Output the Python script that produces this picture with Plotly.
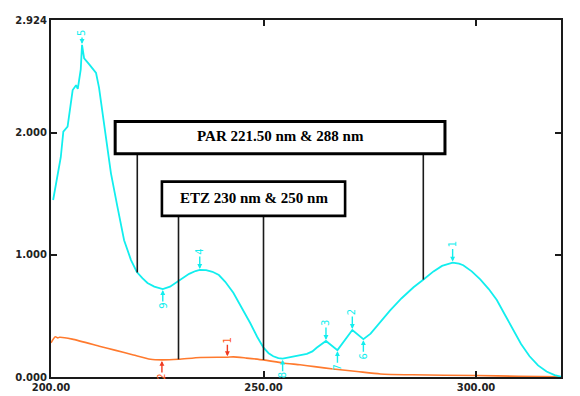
import numpy as np
import plotly.graph_objects as go

# ---------------- data ----------------
cyan_wl = [200.5, 201.3, 202.3, 202.9, 203.9, 205.1, 205.9, 206.3, 207.0, 207.3, 207.8, 209.0,
           209.8, 210.6, 211.3, 212.1, 212.9, 214.1, 215.6, 217.2, 218.8, 220.2, 221.5, 222.7,
           224.3, 225.8, 226.3, 228.0, 229.6, 231.0, 232.5, 234.0, 235.0, 236.5, 238.0, 239.5,
           241.0, 242.9, 245.0, 246.9, 248.5, 250.0, 251.2, 252.3, 253.5, 254.5, 256.0, 258.0,
           260.2, 261.5, 262.5, 264.7, 267.4, 270.9, 273.5, 275.2, 277.4, 279.8, 282.5, 285.3,
           287.5, 290.0, 292.0, 293.5, 294.5, 296.0, 297.0, 299.0, 301.0, 303.0, 304.9, 306.8,
           308.7, 310.6, 312.6, 314.6, 316.6, 318.5, 320.0]
cyan_abs = [1.45, 1.60, 1.80, 2.01, 2.05, 2.35, 2.39, 2.36, 2.52, 2.72, 2.61, 2.56,
            2.52, 2.49, 2.37, 2.16, 1.97, 1.67, 1.40, 1.12, 0.96, 0.86, 0.81, 0.77,
            0.74, 0.725, 0.72, 0.74, 0.78, 0.815, 0.845, 0.868, 0.877, 0.875, 0.862, 0.835,
            0.78, 0.69, 0.565, 0.44, 0.33, 0.24, 0.195, 0.17, 0.155, 0.15, 0.16, 0.175,
            0.19, 0.21, 0.24, 0.295, 0.22, 0.385, 0.31, 0.355, 0.445, 0.545, 0.645, 0.735,
            0.795, 0.865, 0.91, 0.93, 0.937, 0.928, 0.915, 0.865, 0.80, 0.72, 0.63, 0.51,
            0.385, 0.27, 0.17, 0.095, 0.045, 0.015, 0.003]

orange_wl = [200.0, 201.0, 201.6, 202.0, 205.0, 211.6, 215.0, 219.4, 223.4, 226.1, 230.0,
             235.1, 241.5, 242.9, 246.0, 250.0, 254.5, 258.6, 262.0, 266.4, 272.0, 277.5,
             285.0, 300.0, 310.0, 320.0]
orange_abs = [0.28, 0.33, 0.32, 0.325, 0.31, 0.25, 0.22, 0.18, 0.145, 0.14, 0.145,
              0.16, 0.162, 0.165, 0.155, 0.14, 0.115, 0.10, 0.085, 0.065, 0.045, 0.025,
              0.018, 0.012, 0.006, 0.002]

cyan_peak_wl = [294.5, 270.9, 264.7, 235.0, 207.3]
cyan_peak_lbl = ["1", "2", "3", "4", "5"]
cyan_valley_wl = [273.5, 267.4, 254.5, 226.3]
cyan_valley_lbl = ["6", "7", "8", "9"]
orange_peak_wl = [241.5]
orange_peak_lbl = ["1"]
orange_valley_wl = [226.1]
orange_valley_lbl = ["2"]

par_text = "PAR 221.50 nm & 288 nm"
par_lines_wl = [220.3, 287.6]
etz_text = "ETZ 230 nm & 250 nm"
etz_lines_wl = [230.0, 250.0]

x_ticks = [200, 250, 300, 320]
x_tick_text = ["200.00", "250.00", "300.00", "320.00"]
y_ticks = [0, 1, 2, 2.924]
y_tick_text = ["0.000", "1.000", "2.000", "2.924"]

# ---------------- styling ----------------
CYAN = "#12EEEE"
ORANGE = "#FF7A2E"
ORANGE_LBL = "#FF5A1E"
ORANGE_ARROW = "#F03A20"
INK = "#1a1a1a"

par_box = dict(x0=215.1, x1=292.7, y0=1.828, y1=2.093)
etz_box = dict(x0=226.1, x1=269.2, y0=1.32, y1=1.60)

fig = go.Figure()
fig.add_trace(go.Scatter(x=orange_wl, y=orange_abs, mode="lines",
                         line=dict(color=ORANGE, width=1.6, shape="spline", smoothing=0.6),
                         hoverinfo="skip", showlegend=False))
fig.add_trace(go.Scatter(x=cyan_wl, y=cyan_abs, mode="lines",
                         line=dict(color=CYAN, width=1.8),
                         hoverinfo="skip", showlegend=False))

shapes = []
annotations = []

# vertical connector lines
for w in par_lines_wl:
    shapes.append(dict(type="line", xref="x", yref="y", x0=w, x1=w,
                       y0=float(np.interp(w, cyan_wl, cyan_abs)), y1=par_box["y0"],
                       line=dict(color=INK, width=1.6)))
for w in etz_lines_wl:
    shapes.append(dict(type="line", xref="x", yref="y", x0=w, x1=w,
                       y0=float(np.interp(w, orange_wl, orange_abs)), y1=etz_box["y0"],
                       line=dict(color=INK, width=1.6)))

# boxes
shapes.append(dict(type="rect", xref="x", yref="y", **par_box,
                   line=dict(color="black", width=3), fillcolor="white", layer="above"))
shapes.append(dict(type="rect", xref="x", yref="y", **etz_box,
                   line=dict(color="black", width=2.6), fillcolor="white", layer="above"))

annotations.append(dict(x=(par_box["x0"] + par_box["x1"]) / 2, y=(par_box["y0"] + par_box["y1"]) / 2,
                        xref="x", yref="y", text=par_text, showarrow=False, yshift=2,
                        font=dict(family="Liberation Serif", size=15, color="black", weight="bold")))
annotations.append(dict(x=(etz_box["x0"] + etz_box["x1"]) / 2, y=(etz_box["y0"] + etz_box["y1"]) / 2,
                        xref="x", yref="y", text=etz_text, showarrow=False, yshift=1,
                        font=dict(family="Liberation Serif", size=15, color="black", weight="bold")))


def marker(w, lbl, xs, ys, color, acolor, up, dist=18):
    yv = float(np.interp(w, xs, ys))
    annotations.append(dict(x=w, y=yv, xref="x", yref="y", text=lbl, textangle=-90,
                            showarrow=True, ax=0, ay=(-dist if up else dist),
                            arrowhead=2, arrowsize=0.7, arrowwidth=1.4, arrowcolor=acolor,
                            standoff=1, startstandoff=0,
                            font=dict(family="DejaVu Sans", size=10, color=color)))


for w, l in zip(cyan_peak_wl, cyan_peak_lbl):
    marker(w, l, cyan_wl, cyan_abs, CYAN, CYAN, True, 12 if l == "5" else 18)
for w, l in zip(cyan_valley_wl, cyan_valley_lbl):
    marker(w, l, cyan_wl, cyan_abs, CYAN, CYAN, False, 17)
for w, l in zip(orange_peak_wl, orange_peak_lbl):
    marker(w, l, orange_wl, orange_abs, ORANGE_LBL, ORANGE_ARROW, True, 17)
for w, l in zip(orange_valley_wl, orange_valley_lbl):
    marker(w, l, orange_wl, orange_abs, ORANGE_LBL, ORANGE_ARROW, False, 17)

tickfont = dict(family="DejaVu Sans", size=10, color="#222222", weight="bold")

# the page body adds an 8px offset, so the figure is drawn 8px smaller and shifted
fig.update_layout(
    width=572, height=388,
    margin=dict(l=43, r=19, t=12, b=19, autoexpand=False),
    paper_bgcolor="white", plot_bgcolor="white",
    shapes=shapes, annotations=annotations,
    xaxis=dict(range=[200, 320], tickmode="array", tickvals=x_ticks, ticktext=x_tick_text,
               ticks="inside", ticklen=6, tickwidth=2, tickcolor=INK, automargin=False,
               showline=True, linecolor=INK, linewidth=2, mirror="ticks",
               showgrid=False, zeroline=False, tickfont=tickfont),
    yaxis=dict(range=[0, 2.924], tickmode="array", tickvals=y_ticks, ticktext=y_tick_text,
               ticks="inside", ticklen=6, tickwidth=2, tickcolor=INK, automargin=False,
               showline=True, linecolor=INK, linewidth=2, mirror="ticks",
               showgrid=False, zeroline=False, tickfont=tickfont),
)

fig.write_html("out.html")
